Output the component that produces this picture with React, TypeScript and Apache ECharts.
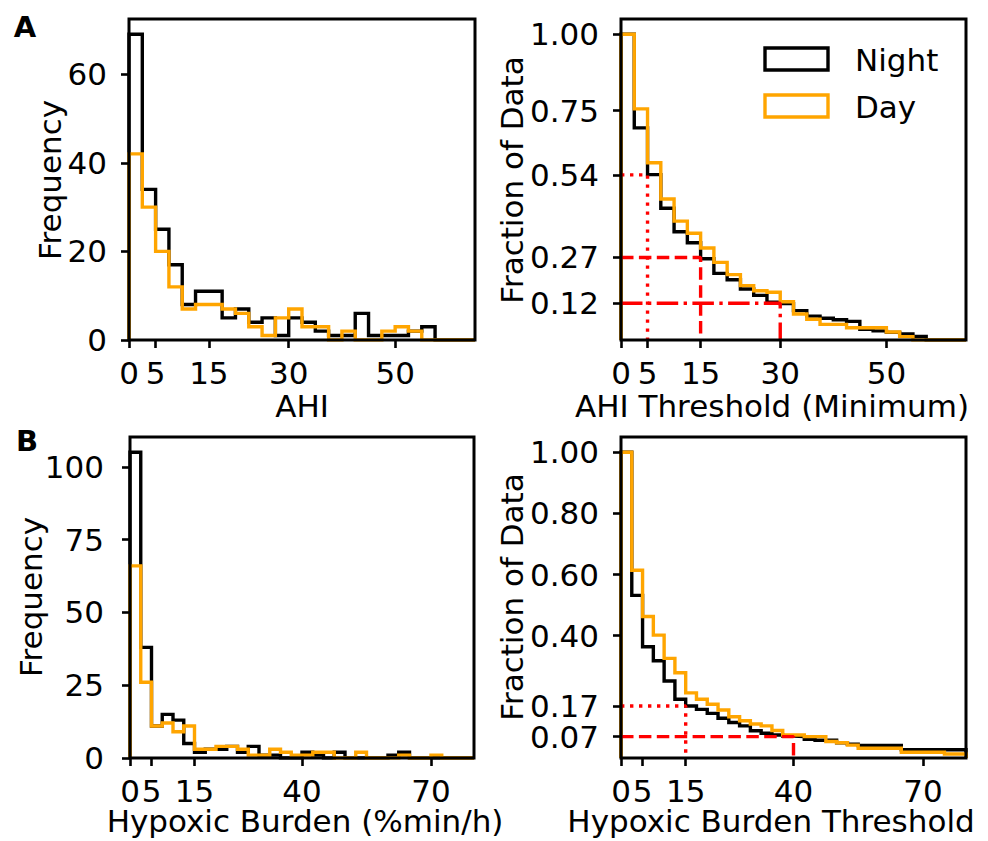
import React, { useEffect, useRef } from "react";
import * as echarts from "echarts";

// ---------- data ----------
const BIN = 2.5;

// Panel A (AHI) histogram counts per 2.5-wide bin, 0..65
const ahiNight = [69, 34, 25, 17, 8, 11, 11, 5, 7, 4, 5, 1, 5, 4, 2, 1, 1, 6, 1, 1, 1, 2, 3, 0, 0, 0];
const ahiDay = [42, 30, 20, 12, 7, 8, 8, 7, 6, 3, 1, 5, 7, 3, 3, 0, 2, 0, 0, 2, 3, 2, 0, 0, 0, 0];

// Panel A fraction of data with AHI >= bin start
const ahiNightFrac = [1.0, 0.694, 0.541, 0.431, 0.354, 0.318, 0.266, 0.218, 0.197, 0.167, 0.146, 0.124, 0.119, 0.096, 0.078, 0.071, 0.066, 0.061, 0.035, 0.03, 0.025, 0.02, 0.012, 0, 0, 0];
const ahiDayFrac = [1.0, 0.756, 0.58, 0.461, 0.389, 0.349, 0.301, 0.254, 0.214, 0.178, 0.161, 0.156, 0.125, 0.085, 0.068, 0.051, 0.051, 0.04, 0.04, 0.04, 0.026, 0.011, 0, 0, 0, 0];

// Panel B (Hypoxic burden) histogram counts per 2.5-wide bin, 0..80
const hbNight = [105, 38, 11, 15, 13, 5, 2, 3, 3, 4, 2, 4, 1, 1, 0, 0, 2, 1, 0, 2, 0, 0, 0, 0, 1, 2, 0, 0, 0, 0, 0, 0];
const hbDay = [66, 26, 11, 12, 9, 11, 3, 3, 4, 4, 3, 1, 1, 3, 2, 1, 1, 2, 2, 0, 0, 2, 0, 0, 0, 1, 0, 0, 1, 0, 0, 0];

const hbNightFrac = [1.0, 0.532, 0.364, 0.318, 0.252, 0.192, 0.17, 0.159, 0.146, 0.13, 0.116, 0.105, 0.089, 0.081, 0.075, 0.072, 0.07, 0.061, 0.058, 0.058, 0.05, 0.045, 0.041, 0.041, 0.041, 0.041, 0.027, 0.027, 0.027, 0.027, 0.027, 0.027];
const hbDayFrac = [1.0, 0.614, 0.463, 0.402, 0.326, 0.279, 0.213, 0.192, 0.176, 0.157, 0.135, 0.122, 0.111, 0.105, 0.09, 0.075, 0.075, 0.07, 0.07, 0.054, 0.05, 0.042, 0.032, 0.032, 0.032, 0.032, 0.019, 0.019, 0.019, 0.019, 0.013, 0.013];

// reference guide lines
const ahiThresholds = [5, 15, 30];
const ahiFractions = [0.54, 0.27, 0.12];
const hbThresholds = [15, 40];
const hbFractions = [0.17, 0.07];

// tick labels
const ahiXTicks = [0, 5, 15, 30, 50];
const hbXTicks = [0, 5, 15, 40, 70];
const ahiHistYTicks = [0, 20, 40, 60];
const hbHistYTicks = [0, 25, 50, 75, 100];
const ahiFracYTicks = [0.12, 0.27, 0.54, 0.75, 1.0];
const hbFracYTicks = [0.07, 0.4, 0.6, 0.8, 1.0];
const hbFracYTicksExtra = [0.17]; // drawn on an overlaid axis so it is not auto-hidden

const seriesNames = ["Night", "Day"];
const axisTitles = ["AHI", "AHI Threshold (Minimum)", "Hypoxic Burden (%min/h)", "Hypoxic Burden Threshold"];

// ---------- styles ----------
const FONT = "'DejaVu Sans', 'Noto Sans', sans-serif";
const FS = 31;
const BLACK = "#000000";
const ORANGE = "#FFA500";
const RED = "#FF0000";
const LW = 3.4;
const DASHES: number[][] = [
  [3.4, 5.6],
  [12.5, 5.4],
  [21.5, 5.4, 3.4, 5.4],
];

function stepPoints(counts: number[]) {
  const pts: number[][] = [[0, 0]];
  counts.forEach((c, i) => pts.push([i * BIN, c]));
  const end = counts.length * BIN;
  pts.push([end, counts[counts.length - 1]]);
  pts.push([end, 0]);
  return pts;
}

function stepSeries(name: string, counts: number[], idx: number, color: string) {
  return {
    type: "line",
    name,
    xAxisIndex: idx,
    yAxisIndex: idx,
    data: stepPoints(counts),
    step: "end",
    showSymbol: false,
    symbol: "none",
    silent: true,
    lineStyle: { color, width: LW, join: "miter", cap: "butt" },
    z: color === ORANGE ? 4 : 3,
  };
}

function guideSeries(th: number, fr: number, idx: number, dash: number[]) {
  return {
    type: "line",
    xAxisIndex: idx,
    yAxisIndex: idx,
    data: [
      [0, fr],
      [th, fr],
      [th, 0],
    ],
    showSymbol: false,
    symbol: "none",
    silent: true,
    lineStyle: { color: RED, width: LW, type: dash, cap: "butt" },
    z: 5,
  };
}

export default function App() {
  const ref = useRef<HTMLDivElement>(null);

  useEffect(() => {
    if (!ref.current) return;
    const chart = echarts.init(ref.current, null, { renderer: "svg" });

    const grids = [
      { left: 129, top: 19, width: 346, height: 321 },
      { left: 621, top: 19, width: 345, height: 321 },
      { left: 130, top: 437, width: 344, height: 321 },
      { left: 621, top: 437, width: 345, height: 321 },
    ].map((g) => ({
      ...g,
      show: true,
      z: 10,
      borderColor: BLACK,
      borderWidth: 3,
      backgroundColor: "transparent",
      containLabel: false,
      outerBoundsMode: "none",
    }));

    const xTicks = [ahiXTicks, ahiXTicks, hbXTicks, hbXTicks];
    const xMax = [ahiNight.length * BIN, ahiNight.length * BIN, hbNight.length * BIN, hbNight.length * BIN];
    const yTicks = [ahiHistYTicks, ahiFracYTicks, hbHistYTicks, hbFracYTicks, hbFracYTicksExtra];
    const yGrid = [0, 1, 2, 3, 3];
    const yMax = [Math.max(...ahiNight) * 1.05, 1.05, Math.max(...hbNight) * 1.05, 1.05, 1.05];
    const yMargins = [22, 22, 26, 22, 22];

    const tickStyle = (vals: number[]) => ({
      show: true,
      customValues: vals,
      length: 8,
      inside: false,
      lineStyle: { color: BLACK, width: 2.6 },
    });

    const xAxis = [0, 1, 2, 3].map((i) => ({
      type: "value",
      gridIndex: i,
      min: 0,
      max: xMax[i],
      z: 10,
      axisLine: { show: false },
      axisTick: tickStyle(xTicks[i]),
      axisLabel: {
        customValues: xTicks[i],
        fontSize: FS,
        fontFamily: FONT,
        color: BLACK,
        margin: 17,
        hideOverlap: false,
        showMinLabel: true,
        showMaxLabel: true,
      },
      splitLine: { show: false },
    }));

    const yAxis = [0, 1, 2, 3, 4].map((i) => ({
      type: "value",
      gridIndex: yGrid[i],
      position: "left",
      offset: 0,
      min: 0,
      max: yMax[i],
      z: 10,
      axisLine: { show: false },
      axisTick: tickStyle(yTicks[i]),
      axisLabel: {
        customValues: yTicks[i],
        fontSize: FS,
        fontFamily: FONT,
        color: BLACK,
        margin: yMargins[i],
        hideOverlap: false,
        showMinLabel: true,
        showMaxLabel: true,
        formatter: i % 2 === 1 || i === 4 ? (v: number) => v.toFixed(2) : (v: number) => String(v),
      },
      splitLine: { show: false },
    }));

    const series: any[] = [
      stepSeries(seriesNames[0], ahiNight, 0, BLACK),
      stepSeries(seriesNames[1], ahiDay, 0, ORANGE),
      stepSeries(seriesNames[0], ahiNightFrac, 1, BLACK),
      stepSeries(seriesNames[1], ahiDayFrac, 1, ORANGE),
      stepSeries(seriesNames[0], hbNight, 2, BLACK),
      stepSeries(seriesNames[1], hbDay, 2, ORANGE),
      stepSeries(seriesNames[0], hbNightFrac, 3, BLACK),
      stepSeries(seriesNames[1], hbDayFrac, 3, ORANGE),
    ];
    ahiThresholds.forEach((th, k) => series.push(guideSeries(th, ahiFractions[k], 1, DASHES[k])));
    hbThresholds.forEach((th, k) => series.push(guideSeries(th, hbFractions[k], 3, DASHES[k])));

    const txt = (text: string, x: number, y: number, opts: any = {}) => ({
      type: "text",
      x,
      y,
      rotation: opts.rotation || 0,
      silent: true,
      z: 10,
      style: {
        text,
        fill: BLACK,
        fontSize: opts.fontSize || FS,
        fontFamily: FONT,
        fontWeight: opts.fontWeight || "normal",
        align: opts.align || "center",
        verticalAlign: "middle",
      },
    });

    const graphic: any[] = [
      txt("A", 25, 27, { fontWeight: "bold", fontSize: 29 }),
      txt("B", 27, 441, { fontWeight: "bold", fontSize: 29 }),
      txt("Frequency", 50, 180, { rotation: Math.PI / 2 }),
      txt("Fraction of Data", 512, 180, { rotation: Math.PI / 2 }),
      txt("Frequency", 31, 597, { rotation: Math.PI / 2 }),
      txt("Fraction of Data", 512, 597, { rotation: Math.PI / 2 }),
      txt(axisTitles[0], 302, 406),
      txt(axisTitles[1], 772, 406),
      txt(axisTitles[2], 305, 821),
      txt(axisTitles[3], 771, 821),
      // legend
      {
        type: "rect",
        shape: { x: 765, y: 48, width: 63, height: 22 },
        style: { fill: "none", stroke: BLACK, lineWidth: 3.4 },
        silent: true,
        z: 10,
      },
      {
        type: "rect",
        shape: { x: 765, y: 95, width: 63, height: 22 },
        style: { fill: "none", stroke: ORANGE, lineWidth: 3.4 },
        silent: true,
        z: 10,
      },
      txt(seriesNames[0], 855, 60, { align: "left" }),
      txt(seriesNames[1], 855, 107, { align: "left" }),
    ];

    chart.setOption({
      animation: false,
      backgroundColor: "#ffffff",
      grid: grids,
      xAxis,
      yAxis,
      series,
      graphic,
    });

    return () => chart.dispose();
  }, []);

  return (
    <div
      ref={ref}
      style={{ position: "absolute", left: 0, top: 0, width: 988, height: 841, background: "#ffffff" }}
    />
  );
}
